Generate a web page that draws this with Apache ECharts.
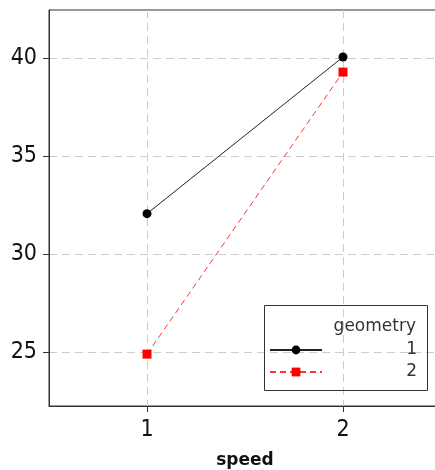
<!DOCTYPE html>
<html><head><meta charset="utf-8">
<script src="https://cdn.jsdelivr.net/npm/echarts@6/dist/echarts.min.js"></script>
<style>html,body{margin:0;padding:0;background:#fff}#c{width:435px;height:470px}</style>
</head><body><div id="c"></div>
<script>
const speed = [1, 2];
const geometry1 = [32.05, 40.05];
const geometry2 = [24.88, 39.28];
const yTicks = [25, 30, 35, 40];
const xTicks = [1, 2];
const seriesNames = ['1', '2'];

const chart = echarts.init(document.getElementById('c'), null, {renderer: 'canvas'});
const font = 'DejaVu Sans Condensed';
const lfont = 'DejaVu Sans';
chart.setOption({
  animation: false,
  backgroundColor: '#fff',
  grid: {left: 49, top: 10, width: 392, bottom: 64, show: true, borderColor: '#333', borderWidth: 1,
         containLabel: false, outerBoundsMode: 'none'},
  xAxis: {
    type: 'value', min: 0.5, max: 2.5,
    name: 'speed', nameLocation: 'middle', nameGap: 46,
    nameTextStyle: {fontFamily: 'DejaVu Sans', fontWeight: 'bold', fontSize: 17, color: '#111'},
    axisLine: {show: true, lineStyle: {color: '#333', width: 1}},
    axisTick: {show: true, length: 6, lineStyle: {color: '#333'}, customValues: xTicks},
    axisLabel: {fontFamily: font, fontSize: 23, color: '#111', margin: 13, customValues: xTicks},
    splitLine: {show: true, lineStyle: {color: '#ccc', type: [8, 5], width: 1}}
  },
  yAxis: {
    type: 'value', min: 22.23, max: 42.45,
    axisLine: {show: true, lineStyle: {color: '#333', width: 1}},
    axisTick: {show: true, length: 6, lineStyle: {color: '#333'}, customValues: yTicks},
    axisLabel: {fontFamily: font, fontSize: 23, color: '#111', margin: 12, customValues: yTicks},
    splitLine: {show: true, lineStyle: {color: '#ccc', type: [8, 5], width: 1}}
  },
  legend: {
    orient: 'vertical', left: 269, top: 341.5, padding: 0, itemWidth: 52, itemHeight: 11, itemGap: 5,
    data: seriesNames,
    formatter: '{a|{name}}',
    textStyle: {fontFamily: lfont, fontSize: 17, color: '#333',
      rich: {a: {fontFamily: lfont, fontSize: 17, color: '#333', width: 90, align: 'right', lineHeight: 20}}}
  },
  graphic: [
    {type: 'rect', left: 264, top: 305, shape: {width: 163, height: 85}, style: {fill: 'transparent', stroke: '#333', lineWidth: 1}, z: 10},
    {type: 'text', x: 416, y: 327, style: {text: 'geometry', font: '17px "DejaVu Sans"', fill: '#333', align: 'right', verticalAlign: 'middle'}, z: 10}
  ],
  series: [
    {name: seriesNames[0], type: 'line', data: speed.map((s, i) => [s, geometry1[i]]),
     symbol: 'circle', symbolSize: 9, itemStyle: {color: '#000'}, lineStyle: {color: '#222', width: 1}},
    {name: seriesNames[1], type: 'line', data: speed.map((s, i) => [s, geometry2[i]]),
     symbol: 'rect', symbolSize: 9, itemStyle: {color: '#f00'}, lineStyle: {color: '#f33', width: 1, type: [6, 4]}}
  ]
});
</script></body></html>
